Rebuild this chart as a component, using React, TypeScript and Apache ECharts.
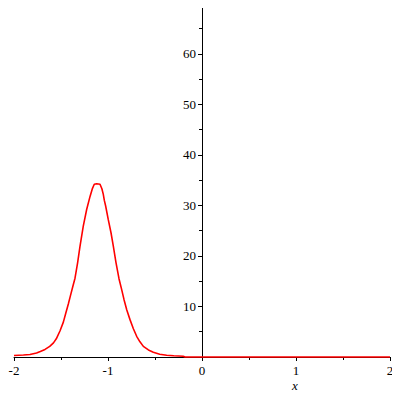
import React, { useEffect, useRef } from "react";
import * as echarts from "echarts";

const xs = [
  -2.0, -1.9, -1.83, -1.76, -1.72, -1.67, -1.62, -1.58, -1.55, -1.51, -1.475, -1.45, -1.422, -1.4,
  -1.375, -1.351, -1.323, -1.298, -1.263, -1.227, -1.191, -1.165, -1.146, -1.12, -1.085, -1.065,
  -1.05, -1.039, -1.025, -0.997, -0.968, -0.943, -0.915, -0.883, -0.855, -0.83, -0.8, -0.766,
  -0.73, -0.695, -0.66, -0.624, -0.57, -0.518, -0.45, -0.376, -0.3, -0.2, -0.18, 2.0,
];
const ys = [
  0.3, 0.4, 0.5, 0.8, 1.1, 1.5, 2.1, 2.8, 3.6, 5.2, 6.9, 8.6, 10.5, 12.1,
  13.9, 15.6, 18.7, 21.9, 25.9, 29.2, 31.8, 33.4, 34.2, 34.3, 34.2, 33.3,
  32.2, 31.0, 29.9, 27.2, 24.6, 21.9, 18.7, 15.5, 13.4, 11.4, 9.3, 7.4,
  5.6, 4.1, 3.0, 2.1, 1.4, 0.95, 0.55, 0.35, 0.25, 0.15, 0, 0,
];
const xTicks = [-2, -1, 0, 1, 2];
const yTicks = [10, 20, 30, 40, 50, 60];

export default function App() {
  const ref = useRef<HTMLDivElement>(null);
  useEffect(() => {
    if (!ref.current) return;
    const chart = echarts.init(ref.current, null, { renderer: "svg" });
    const font = "Liberation Serif";
    const gridLeft = 14;
    const gridRight = 10;
    const plotW = 400 - gridLeft - gridRight;
    // y axis sits at x = 0 of the [-2, 2] range
    const yAxisOffset = -plotW * (0 - -2) / 4;
    chart.setOption({
      animation: false,
      backgroundColor: "#ffffff",
      grid: {
        left: gridLeft,
        right: gridRight,
        top: 7,
        bottom: 43,
        containLabel: false,
        outerBoundsMode: "none",
      },
      xAxis: {
        type: "value",
        min: -2,
        max: 2,
        interval: 1,
        axisLine: { show: true, onZero: false, lineStyle: { color: "#000", width: 1 } },
        axisTick: { show: true, length: 4, lineStyle: { color: "#000" } },
        minorTick: { show: true, splitNumber: 2, length: 3, lineStyle: { color: "#000" } },
        splitLine: { show: false },
        axisLabel: {
          color: "#000",
          fontFamily: font,
          fontSize: 13,
          margin: 7,
          hideOverlap: false,
          formatter: (v: number) => (xTicks.includes(v) ? String(v) : ""),
        },
      },
      yAxis: {
        type: "value",
        position: "left",
        offset: yAxisOffset,
        min: 0,
        max: 69.3,
        interval: 10,
        axisLine: { show: true, onZero: false, lineStyle: { color: "#000", width: 1 } },
        axisTick: { show: true, length: 4, lineStyle: { color: "#000" } },
        minorTick: { show: true, splitNumber: 2, length: 3, lineStyle: { color: "#000" } },
        splitLine: { show: false },
        axisLabel: {
          color: "#000",
          fontFamily: font,
          fontSize: 13,
          margin: 6,
          hideOverlap: false,
          formatter: (v: number) => (yTicks.includes(v) ? String(v) : ""),
        },
      },
      graphic: [
        {
          type: "text",
          left: 292,
          top: 379,
          style: { text: "x", fontFamily: font, fontStyle: "italic", fontSize: 13, fill: "#000" },
        },
      ],
      series: [
        {
          type: "line",
          data: xs.map((x, i) => [x, ys[i]]),
          showSymbol: false,
          smooth: false,
          clip: false,
          z: 5,
          lineStyle: { color: "#ff0000", width: 1.6 },
        },
      ],
    });
    return () => chart.dispose();
  }, []);
  return <div ref={ref} style={{ width: 400, height: 400, margin: -8 }} />;
}
